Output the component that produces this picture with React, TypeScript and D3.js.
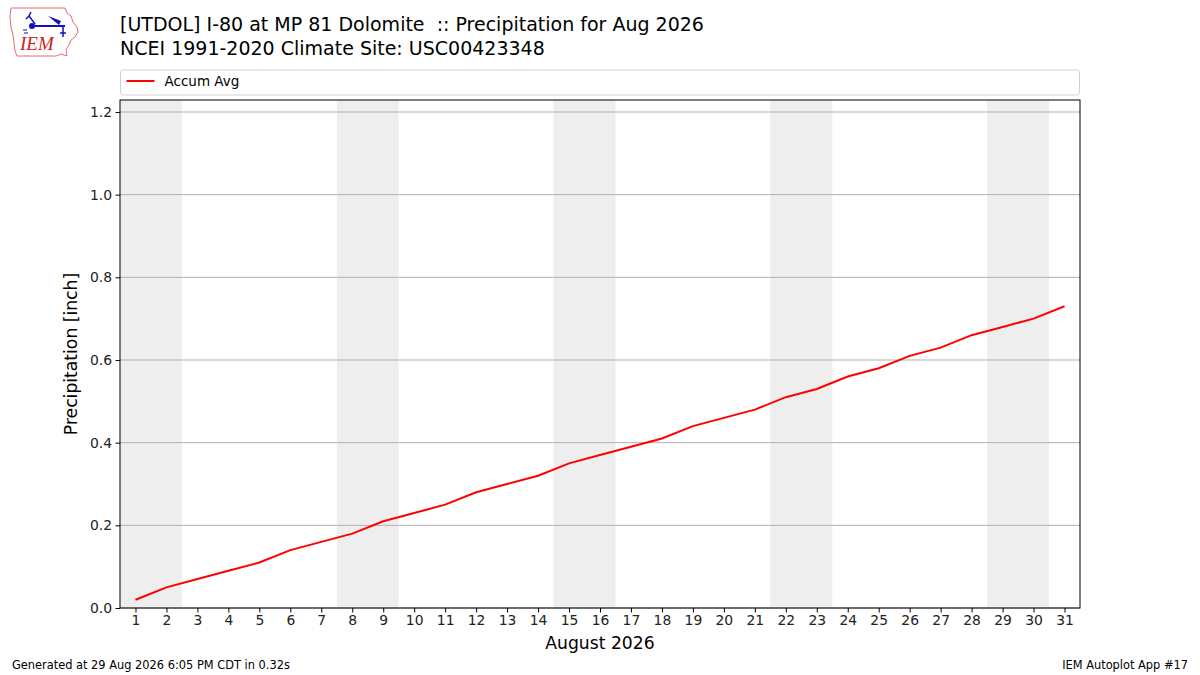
import { useEffect, useRef } from "react";
import * as d3 from "d3";

// accumulated average precipitation, Aug 1..31
const days = d3.range(1, 32);
const accumAvg = [
  0.02, 0.05, 0.07, 0.09, 0.11, 0.14, 0.16, 0.18, 0.21, 0.23,
  0.25, 0.28, 0.30, 0.32, 0.35, 0.37, 0.39, 0.41, 0.44, 0.46,
  0.48, 0.51, 0.53, 0.56, 0.58, 0.61, 0.63, 0.66, 0.68, 0.70, 0.73,
];
// weekend day pairs (Sat/Sun)
const weekends = [[1, 2], [8, 9], [15, 16], [22, 23], [29, 30]];
const yTicks = [0, 0.2, 0.4, 0.6, 0.8, 1.0, 1.2];

const titleLines = [
  "[UTDOL] I-80 at MP 81 Dolomite  :: Precipitation for Aug 2026",
  "NCEI 1991-2020 Climate Site: USC00423348",
];

const FONT = "'DejaVu Sans', sans-serif";

function Chart() {
  const svgRef = useRef<SVGSVGElement>(null);

  useEffect(() => {
    if (!svgRef.current) return;
    const width = 1200, height = 675;
    const margin = { top: 100, right: 120, bottom: 67, left: 120 };
    const innerWidth = width - margin.left - margin.right;
    const innerHeight = height - margin.top - margin.bottom;

    const svg = d3.select(svgRef.current);
    svg.selectAll("*").remove();
    svg.attr("viewBox", `0 0 ${width} ${height}`).style("font-family", FONT);

    svg.append("rect").attr("width", width).attr("height", height).attr("fill", "#fff");

    // Logo (rough IEM mark)
    const logo = svg.append("g").attr("transform", "translate(9,7)");
    logo.append("path")
      .attr("d", "M2,1 L56,1 L58,6 L62,9 L64,15 L68,20 L69,25 L66,30 L62,33 L60,38 L57,42 L58,49 L52,47 L47,49 L8,49 L6,44 L5,36 L4,28 L2,20 L1,10 Z")
      .attr("fill", "none").attr("stroke", "#e07070").attr("stroke-width", 1);
    logo.append("text")
      .attr("x", 11).attr("y", 43)
      .attr("fill", "#d02020").attr("font-family", "'Liberation Serif', serif")
      .attr("font-style", "italic").attr("font-size", 19)
      .text("IEM");
    logo.append("line").attr("x1", 24).attr("y1", 19).attr("x2", 56).attr("y2", 19)
      .attr("stroke", "#1010c0").attr("stroke-width", 2);
    logo.append("circle").attr("cx", 23).attr("cy", 19).attr("r", 3).attr("fill", "#1010c0");
    logo.append("path").attr("d", "M39,9 L52,14 L50,18 Z").attr("fill", "#1010c0");
    logo.append("path").attr("d", "M22,5 L20,9 L26,17 M17,12 L20,9").attr("stroke", "#1010c0").attr("stroke-width", 1.5).attr("fill", "none");
    logo.append("path").attr("d", "M54,19 L54,30 M51,26 L57,26").attr("stroke", "#1010c0").attr("stroke-width", 1.5).attr("fill", "none");
    logo.append("path").attr("d", "M14,23 L18,23 M15,26 L19,26").attr("stroke", "#1010c0").attr("stroke-width", 1.2).attr("fill", "none");

    // Titles
    titleLines.forEach((t, i) => {
      svg.append("text")
        .attr("x", 120).attr("y", 31 + i * 23.5)
        .attr("font-size", 19).attr("fill", "#000")
        .style("white-space", "pre")
        .attr("xml:space", "preserve")
        .text(t);
    });

    // Legend
    const legend = svg.append("g").attr("transform", "translate(120.5,70)");
    legend.append("rect")
      .attr("width", 959).attr("height", 25).attr("rx", 3)
      .attr("fill", "#fff").attr("stroke", "#d0d0d0");
    legend.append("line").attr("x1", 6).attr("x2", 34).attr("y1", 11).attr("y2", 11)
      .attr("stroke", "#ff0000").attr("stroke-width", 2);
    legend.append("text").attr("x", 44).attr("y", 16).attr("font-size", 13.5).text("Accum Avg");

    const x = d3.scaleLinear().domain([0.5, 31.5]).range([0, innerWidth]);
    const y = d3.scaleLinear().domain([0, 1.229]).range([innerHeight, 0]);

    const g = svg.append("g").attr("transform", `translate(${margin.left},${margin.top})`);

    // Weekend shading
    g.selectAll("rect.wk")
      .data(weekends)
      .join("rect")
      .attr("class", "wk")
      .attr("x", d => x(d[0] - 0.5))
      .attr("width", d => x(d[1] + 0.5) - x(d[0] - 0.5))
      .attr("y", 0)
      .attr("height", innerHeight)
      .attr("fill", "#eeeeee");

    // Grid
    g.selectAll("line.grid")
      .data(yTicks)
      .join("line")
      .attr("class", "grid")
      .attr("x1", 0).attr("x2", innerWidth)
      .attr("y1", d => y(d)).attr("y2", d => y(d))
      .attr("stroke", "#b0b0b0").attr("stroke-width", 1);

    // Line
    const line = d3.line<number>()
      .x((_, i) => x(days[i]))
      .y(d => y(d));
    g.append("path")
      .datum(accumAvg)
      .attr("d", line)
      .attr("fill", "none")
      .attr("stroke", "#ff0000")
      .attr("stroke-width", 2);

    // Frame
    g.append("rect").attr("width", innerWidth).attr("height", innerHeight)
      .attr("fill", "none").attr("stroke", "#000").attr("stroke-width", 1);

    // Axes
    const xAxis = g.append("g")
      .attr("transform", `translate(0,${innerHeight})`)
      .call(d3.axisBottom(x).tickValues(days).tickFormat(d3.format("d")).tickSize(4.5).tickPadding(3));
    const yAxis = g.append("g")
      .call(d3.axisLeft(y).tickValues(yTicks).tickFormat(d3.format(".1f")).tickSize(4.5).tickPadding(3.5));
    [xAxis, yAxis].forEach(a => {
      a.select(".domain").remove();
      a.selectAll("text").attr("font-size", 13.9).attr("font-family", FONT).attr("fill", "#222");
      a.selectAll("line").attr("stroke", "#000");
    });

    g.append("text")
      .attr("x", innerWidth / 2).attr("y", innerHeight + 41)
      .attr("text-anchor", "middle").attr("font-size", 17.2)
      .text("August 2026");
    g.append("text")
      .attr("transform", "rotate(-90)")
      .attr("x", -innerHeight / 2).attr("y", -43)
      .attr("text-anchor", "middle").attr("font-size", 17.2)
      .text("Precipitation [inch]");

    // Footer
    svg.append("text").attr("x", 12).attr("y", 669).attr("font-size", 11.4).text("Generated at 29 Aug 2026 6:05 PM CDT in 0.32s");
    svg.append("text").attr("x", 1188).attr("y", 669).attr("text-anchor", "end").attr("font-size", 11.4).text("IEM Autoplot App #17");
  }, []);

  return <svg ref={svgRef} width={1200} height={675} style={{ display: "block" }} />;
}

export default function App() {
  return (
    <div style={{ position: "absolute", left: 0, top: 0 }}>
      <Chart />
    </div>
  );
}
